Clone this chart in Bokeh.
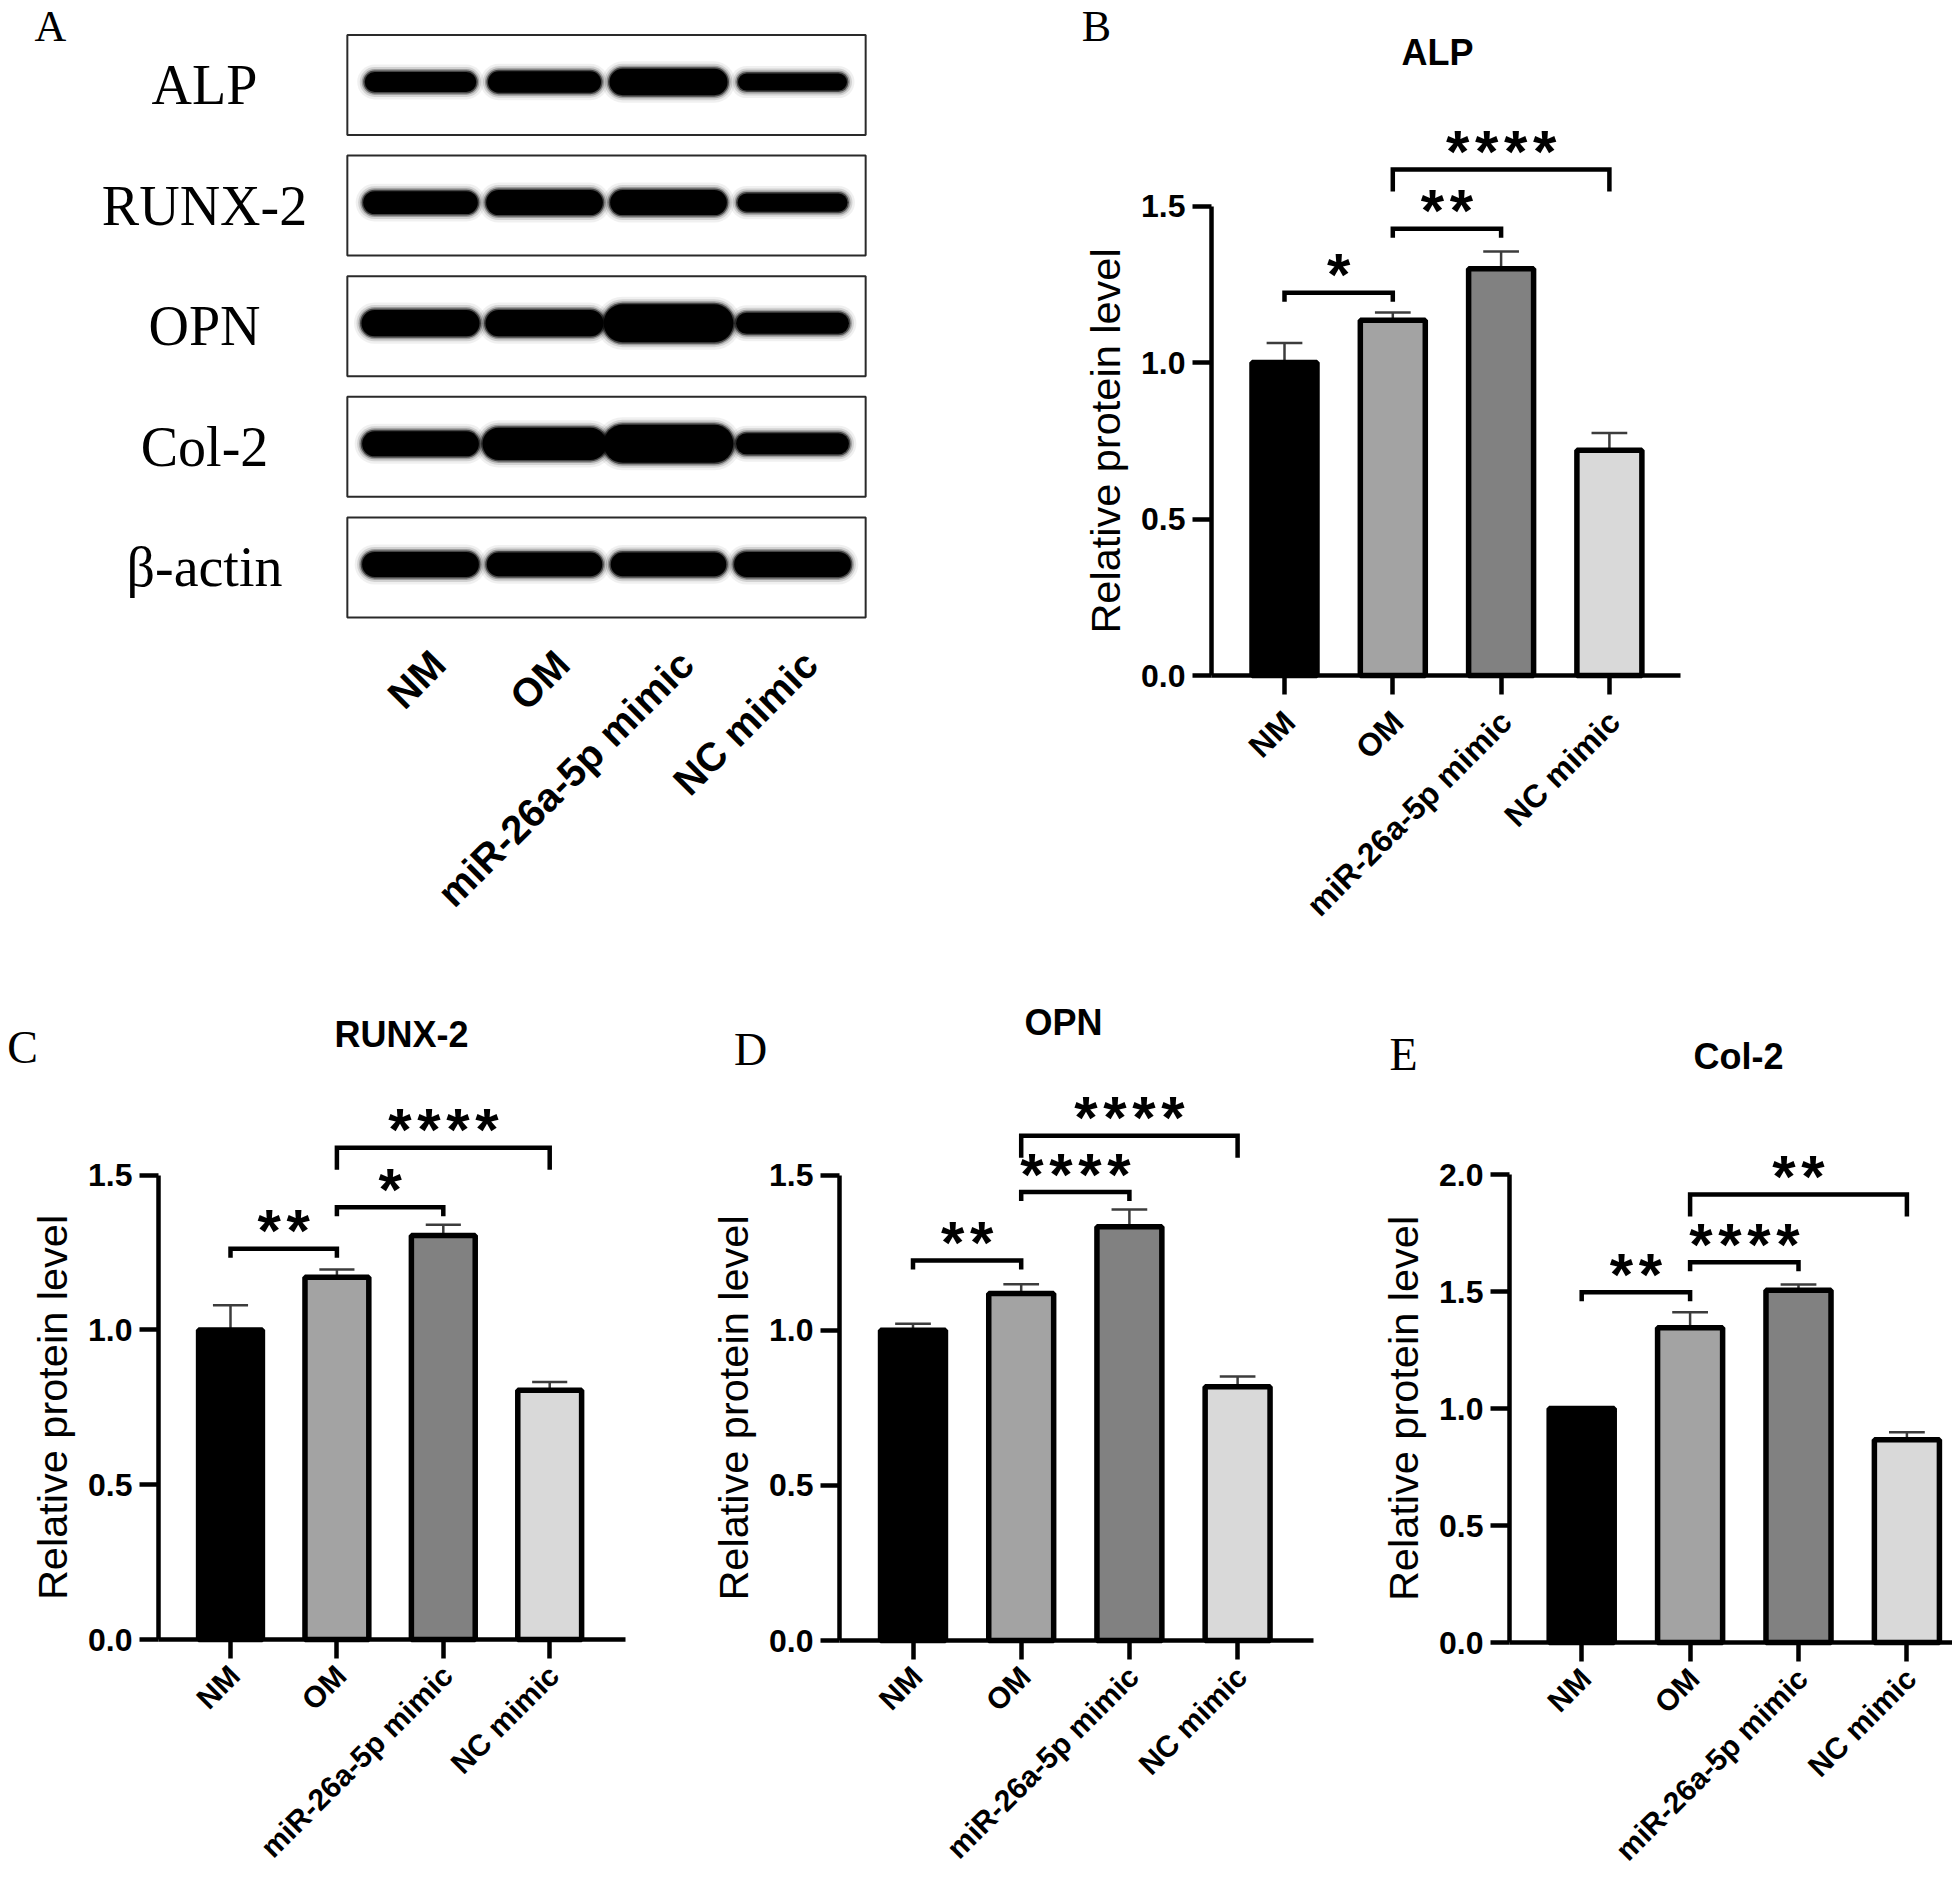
import math
from bokeh.plotting import figure
from bokeh.layouts import column, row
from bokeh.models import (Range1d, FixedTicker, Label, PrintfTickFormatter, LinearAxis,
                          CustomJSTickFormatter)
from bokeh.embed import file_html
from bokeh.resources import INLINE
from bokeh.core.properties import value

# ---------------- data ----------------
groups = ["NM", "OM", "miR-26a-5p mimic", "NC mimic"]
proteins = ["ALP", "RUNX-2", "OPN", "Col-2", "β-actin"]

# western blot: relative band strength per lane (NM, OM, miR mimic, NC mimic)
band_alp = [0.80, 0.86, 1.05, 0.70]
band_runx = [0.92, 1.00, 1.00, 0.74]
band_opn = [1.05, 1.05, 1.50, 0.85]
band_col = [1.00, 1.28, 1.50, 0.85]
band_actin = [1.00, 0.95, 0.95, 1.00]

# quantification: mean and error
alp_mean = [1.00, 1.135, 1.30, 0.72]
alp_err = [0.063, 0.025, 0.055, 0.055]
runx_mean = [1.00, 1.17, 1.305, 0.805]
runx_err = [0.08, 0.025, 0.035, 0.027]
opn_mean = [1.00, 1.118, 1.333, 0.818]
opn_err = [0.021, 0.03, 0.056, 0.033]
col_mean = [1.00, 1.345, 1.505, 0.866]
col_err = [0.005, 0.066, 0.025, 0.032]

# significance comparisons (group index pairs), labels and bracket heights
pairs = [(0, 1), (1, 2), (1, 3)]
alp_sig = ["*", "**", "****"]
runx_sig = ["**", "*", "****"]
opn_sig = ["**", "****", "****"]
col_sig = ["**", "****", "**"]
alp_brk = [1.223, 1.428, 1.617]
runx_brk = [1.262, 1.396, 1.588]
opn_brk = [1.225, 1.445, 1.627]
col_brk = [1.497, 1.625, 1.915]

ticks_15 = [0.0, 0.5, 1.0, 1.5]
ticks_20 = [0.0, 0.5, 1.0, 1.5, 2.0]

# ---------------- styles ----------------
SANS = "Liberation Sans"
SERIF = "Liberation Serif"
bar_colors = ["#000000", "#a3a3a3", "#818181", "#d9d9d9"]


def bar_panel(title, letter, means, errs, sig, brk, ticks, g):
    dx, ppu = g["dx"], g["ppu"]

    def xd(px):
        return 1 + (px - g["nm_x"]) / dx

    def yd(py):
        return (g["y0"] - py) / ppu

    fx, fy, fw, fh = g["fx"], g["fy"], g["fw"], g["fh"]
    p = figure(width=fw, height=fh,
               x_range=Range1d(xd(fx), xd(fx + fw)), y_range=Range1d(yd(fy + fh), yd(fy)),
               output_backend="svg", toolbar_location=None,
               x_axis_location=None, y_axis_location=None,
               min_border_left=0, min_border_right=0, min_border_top=0, min_border_bottom=0)
    p.grid.visible = False
    p.outline_line_color = None

    xs = [1, 2, 3, 4]
    tops = [m + e for m, e in zip(means, errs)]
    cap = 0.165
    p.segment(x0=xs, y0=means, x1=xs, y1=tops, line_color="#3c3c3c", line_width=2.5)
    p.segment(x0=[x - cap for x in xs], y0=tops, x1=[x + cap for x in xs], y1=tops,
              line_color="#3c3c3c", line_width=2.5)
    p.vbar(x=xs, top=means, bottom=0, width=0.6, fill_color=bar_colors,
           line_color="black", line_width=5.5)

    short, long_ = 9 / ppu, 22 / ppu
    for (a, b), yb, s in zip(pairs, brk, sig):
        drop = long_ if b - a > 1 else short
        xa, xb = xs[a], xs[b]
        p.line(x=[xa, xa, xb, xb], y=[yb - drop, yb, yb, yb - drop],
               line_color="black", line_width=4.5, line_join="miter")
        n = len(s)
        p.text(x=[(xa + xb) / 2] * n, y=[yb] * n, text=["*"] * n,
               x_offset=[(k - (n - 1) / 2) * 29 for k in range(n)], y_offset=[-18] * n,
               text_align="center", text_baseline="alphabetic",
               text_font=value(SANS), text_font_style="bold", text_font_size="60px",
               text_color="black")

    # y axis
    ya = LinearAxis(fixed_location=xd(g["axis_x"]), bounds=(0, ticks[-1]))
    ya.ticker = FixedTicker(ticks=ticks)
    ya.formatter = PrintfTickFormatter(format="%.1f")
    ya.axis_line_width = 4.5
    ya.major_tick_line_width = 4.5
    ya.major_tick_out = 19
    ya.major_tick_in = 0
    ya.minor_tick_line_color = None
    ya.major_label_text_font = SANS
    ya.major_label_text_font_style = "bold"
    ya.major_label_text_font_size = "32px"
    ya.major_label_text_color = "black"
    ya.major_label_standoff = 7
    ya.axis_label = "Relative protein level"
    ya.axis_label_text_font = SANS
    ya.axis_label_text_font_style = "normal"
    ya.axis_label_text_font_size = "41.5px"
    ya.axis_label_text_color = "black"
    ya.axis_label_standoff = 9
    p.add_layout(ya, "left")

    # x axis: line and tick marks
    xa_ = LinearAxis(fixed_location=0, bounds=(xd(g["axis_x"]), xd(g["right"])))
    xa_.ticker = FixedTicker(ticks=xs)
    xa_.axis_line_width = 4.5
    xa_.major_tick_line_width = 4.5
    xa_.major_tick_out = 19
    xa_.major_tick_in = 0
    xa_.minor_tick_line_color = None
    xa_.major_label_text_color = None
    p.add_layout(xa_, "below")

    # x axis: rotated group names (slightly to the right of each tick, as in the figure)
    shift = g["lab_dx"] / dx
    xl = LinearAxis(fixed_location=0, bounds=(xd(g["axis_x"]), xd(g["right"])))
    xl.ticker = FixedTicker(ticks=[x + shift for x in xs])
    xl.formatter = CustomJSTickFormatter(args=dict(labels=groups, shift=shift),
                                         code="return labels[Math.round(tick - shift) - 1];")
    xl.axis_line_color = None
    xl.major_tick_line_color = None
    xl.minor_tick_line_color = None
    xl.major_tick_out = 19
    xl.major_tick_in = 0
    xl.major_label_orientation = math.pi / 4
    xl.major_label_text_font = SANS
    xl.major_label_text_font_style = "bold"
    xl.major_label_text_font_size = g["lab_size"]
    xl.major_label_text_color = "black"
    xl.major_label_standoff = g["lab_standoff"]
    p.add_layout(xl, "below")

    tx, ty = g["title_at"]
    p.add_layout(Label(x=xd(tx), y=yd(ty), text=title, text_align="center", text_baseline="middle",
                       text_font=SANS, text_font_style="bold", text_font_size="36px",
                       text_color="black"))
    lx, ly = g["letter_at"]
    p.add_layout(Label(x=xd(lx), y=yd(ly), text=letter, text_align="center",
                       text_baseline="middle",
                       text_font=SERIF, text_font_size=g["letter_size"], text_color="black"))
    return p


# ---------------- panel A: western blot ----------------
A_W, A_H = 1050, 990
lane_px, lane1_x = 124.0, 420.0
row_px, row0_y = 120.6, 84.5
ax0 = 1 - lane1_x / lane_px
ax1 = ax0 + A_W / lane_px
ay_top = -row0_y / row_px
ay_bot = ay_top + A_H / row_px
pa = figure(width=A_W, height=A_H, x_range=Range1d(ax0, ax1), y_range=Range1d(ay_bot, ay_top),
            output_backend="svg", toolbar_location=None,
            x_axis_location=None, y_axis_location=None,
            min_border_left=0, min_border_right=0, min_border_top=0, min_border_bottom=0)
pa.grid.visible = False
pa.outline_line_color = None

lanes = [1, 2, 3, 4]
rows = list(range(len(proteins)))
bands = [band_alp, band_runx, band_opn, band_col, band_actin]
box_half = 50 / row_px
pa.quad(left=[0.41] * 5, right=[4.59] * 5, top=[r - box_half for r in rows],
        bottom=[r + box_half for r in rows], fill_color=None, line_color="#2a2a2a", line_width=2)

base_t = 26.0
half_len = 0.37
band_dy = -3 / row_px
layers = [(14, 0.06), (9, 0.12), (5, 0.25), (2, 0.55), (-1, 1.0)]
for r, strengths in zip(rows, bands):
    for l, s in zip(lanes, strengths):
        t = base_t * s
        for extra, alpha in layers:
            pa.segment(x0=[l - half_len], y0=[r + band_dy], x1=[l + half_len], y1=[r + band_dy],
                       line_color="black", line_alpha=alpha, line_width=max(t + extra, 1),
                       line_cap="round")

pa.text(x=[1 + (204 - lane1_x) / lane_px] * len(rows), y=rows, text=proteins,
        text_align="center", text_baseline="middle", text_font=value(SERIF),
        text_font_size="56px", text_color="black")
pa.text(x=[l + 18 / lane_px for l in lanes], y=[4 + (657 - 567) / row_px] * 4, text=groups,
        angle=math.pi / 4, text_align="right", text_baseline="middle",
        text_font=value(SANS), text_font_style="bold", text_font_size="40px", text_color="black")
pa.text(x=[1 + (50 - lane1_x) / lane_px], y=[(26 - row0_y) / row_px], text=["A"],
        text_align="center", text_baseline="middle", text_font=value(SERIF),
        text_font_size="44px", text_color="black")

# ---------------- bar panels ----------------
gB = dict(fx=1050, fy=0, fw=902, fh=990, axis_x=1211, right=1680, y0=675,
          ppu=312.9, nm_x=1284, dx=108.3, title_at=(1437, 52), letter_at=(1096, 26),
          letter_size="44px", lab_dx=5, lab_size="32px", lab_standoff=22)
gC = dict(fx=0, fy=990, fw=690, fh=885, axis_x=158, right=625, y0=1639,
          ppu=309.6, nm_x=230, dx=106.4, title_at=(401, 1034), letter_at=(22, 1047),
          letter_size="46px", lab_dx=4, lab_size="30px", lab_standoff=12)
gD = dict(fx=690, fy=990, fw=680, fh=885, axis_x=839, right=1313, y0=1640,
          ppu=310.3, nm_x=912.5, dx=108.2, title_at=(1063, 1022), letter_at=(750, 1049),
          letter_size="46px", lab_dx=4, lab_size="30px", lab_standoff=12)
gE = dict(fx=1370, fy=990, fw=582, fh=885, axis_x=1509, right=1952, y0=1642,
          ppu=234.0, nm_x=1581.2, dx=108.4, title_at=(1738, 1056), letter_at=(1403, 1054),
          letter_size="46px", lab_dx=4, lab_size="30px", lab_standoff=12)

pb = bar_panel("ALP", "B", alp_mean, alp_err, alp_sig, alp_brk, ticks_15, gB)
pc = bar_panel("RUNX-2", "C", runx_mean, runx_err, runx_sig, runx_brk, ticks_15, gC)
pd_ = bar_panel("OPN", "D", opn_mean, opn_err, opn_sig, opn_brk, ticks_15, gD)
pe = bar_panel("Col-2", "E", col_mean, col_err, col_sig, col_brk, ticks_20, gE)

layout = column(row(pa, pb), row(pc, pd_, pe))
open("out.html", "w").write(file_html(layout, INLINE))
